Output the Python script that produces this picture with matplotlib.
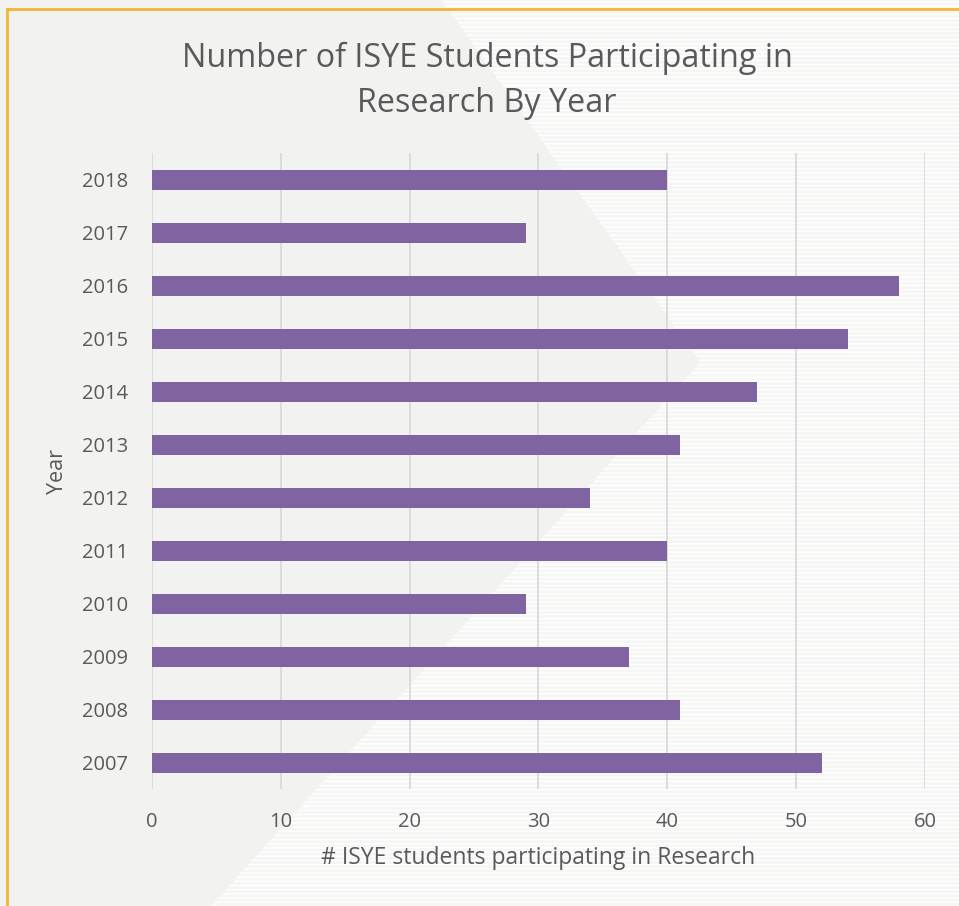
import matplotlib
matplotlib.use("Agg")
import matplotlib.pyplot as plt
from matplotlib.patches import Polygon
from matplotlib.lines import Line2D

years = ["2007", "2008", "2009", "2010", "2011", "2012",
         "2013", "2014", "2015", "2016", "2017", "2018"]
students = [52, 41, 37, 29, 40, 34, 41, 47, 54, 58, 29, 40]
x_ticks = [0, 10, 20, 30, 40, 50, 60]

plt.rcParams["font.family"] = ["Open Sans", "DejaVu Sans"]
text_color = "#595959"
bar_color = "#8064A2"

fig = plt.figure(figsize=(9.59, 9.06), dpi=100)
fig.patch.set_facecolor("#F2F3F1")

# lighter striped chevron region in the background
shape = Polygon([(0.46, 1.0), (1.0, 1.0), (1.0, 0.0), (0.22, 0.0),
                 (0.73, 0.60)], closed=True, transform=fig.transFigure,
                facecolor="#F6F6F5", edgecolor="#FFFFFF", hatch="----",
                linewidth=0, zorder=-10)
fig.patches.append(shape)

# gold frame on the left and top
fig.add_artist(Line2D([0.0073, 0.0073], [0.0, 0.990], color="#F2B632",
                      linewidth=2, transform=fig.transFigure, zorder=5))
fig.add_artist(Line2D([0.0073, 1.0], [0.990, 0.990], color="#F2B632",
                      linewidth=2, transform=fig.transFigure, zorder=5))

ax = fig.add_axes([0.1585, 0.1286, 0.806, 0.702])
ax.set_facecolor("none")
ax.set_zorder(2)

pos = list(range(len(years)))
ax.barh(pos, students, height=0.36, color=bar_color, zorder=3)

ax.set_xlim(0, 60)
ax.set_ylim(-0.5, len(years) - 0.5)
ax.set_xticks(x_ticks)
ax.set_xticklabels([str(t) for t in x_ticks])
ax.set_yticks(pos)
ax.set_yticklabels(years)

ax.grid(axis="x", color="#D9D9D9", linewidth=1.3, zorder=1)
ax.grid(axis="y", visible=False)
for s in ax.spines.values():
    s.set_visible(False)
ax.tick_params(axis="both", length=0, labelsize=14.5, colors=text_color)
ax.tick_params(axis="x", pad=16)
ax.tick_params(axis="y", pad=17)

ax.set_xlabel("# ISYE students participating in Research", fontsize=16.5,
              color=text_color, labelpad=10)
ax.set_ylabel("Year", fontsize=15.5, color=text_color, labelpad=10)

fig.text(0.508, 0.911, "Number of ISYE Students Participating in\nResearch By Year",
         ha="center", va="center", fontsize=23.3, color=text_color,
         linespacing=1.5)

fig.savefig("out.png", dpi=100, facecolor=fig.get_facecolor())
